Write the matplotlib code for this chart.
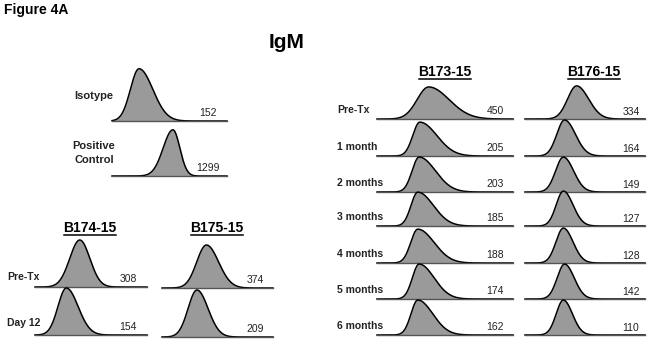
import numpy as np
import matplotlib.pyplot as plt

plt.rcParams['font.family'] = ['Liberation Sans', 'DejaVu Sans']

# --- data -----------------------------------------------------------------
# each histogram: peak position (fraction of the axis), left / right spread,
# peak height (fraction of the panel height) and the printed MFI value
ctrl_labels = ['Isotype', 'Positive\nControl']
ctrl_peak = [0.235, 0.53]
ctrl_sl = [0.075, 0.085]
ctrl_sr = [0.12, 0.06]
ctrl_h = [0.95, 0.84]
ctrl_mfi = [152, 1299]

short_labels = ['Pre-Tx', 'Day 12']
b174_peak = [0.40, 0.28]
b174_sl = [0.09, 0.075]
b174_sr = [0.09, 0.105]
b174_h = [0.94, 0.94]
b174_mfi = [308, 154]

b175_peak = [0.40, 0.315]
b175_sl = [0.087, 0.08]
b175_sr = [0.11, 0.10]
b175_h = [0.86, 0.94]
b175_mfi = [374, 209]

long_labels = ['Pre-Tx', '1 month', '2 months', '3 months', '4 months', '5 months', '6 months']
b173_peak = [0.38, 0.315, 0.31, 0.30, 0.30, 0.31, 0.30]
b173_sl = [0.085, 0.052, 0.052, 0.05, 0.052, 0.05, 0.05]
b173_sr = [0.15, 0.125, 0.12, 0.115, 0.12, 0.11, 0.11]
b173_h = [0.89, 0.94, 0.97, 0.94, 0.94, 0.97, 0.97]
b173_mfi = [450, 205, 203, 185, 188, 174, 162]

b176_peak = [0.43, 0.33, 0.32, 0.32, 0.32, 0.33, 0.32]
b176_sl = [0.075, 0.065, 0.065, 0.06, 0.062, 0.062, 0.06]
b176_sr = [0.10, 0.09, 0.085, 0.08, 0.08, 0.08, 0.075]
b176_h = [0.92, 1.0, 0.97, 0.97, 0.97, 0.97, 0.97]
b176_mfi = [334, 164, 149, 127, 128, 142, 110]

# --- figure -----------------------------------------------------------------
W, H = 654, 342
fig = plt.figure(figsize=(W / 100, H / 100), dpi=100)
FILL = '#9a9a9a'
xs = np.linspace(0, 1, 400)


def px(x, y):
    return x / W, 1 - y / H


def histogram(x0, x1, base, hpx, peak, sl, sr, h, mfi, num_x, num_dy):
    ax = fig.add_axes([x0 / W, (H - base) / H, (x1 - x0) / W, hpx / H])
    ax.set_xlim(0, 1)
    ax.set_ylim(0, 1)
    ax.axis('off')
    s = np.where(xs < peak, sl, sr)
    ys = h * np.exp(-0.5 * ((xs - peak) / s) ** 2)
    ax.fill_between(xs, 0, ys, color=FILL, lw=0)
    ax.plot(xs, ys, color='black', lw=1.1, clip_on=False)
    ax.axhline(0, color='#555555', lw=1.0, clip_on=False)
    ax.text(num_x, num_dy / hpx, str(mfi), ha='center', va='bottom',
            fontsize=7.5, color='#222222')
    return ax


def title(x, y, s):
    fig.text(*px(x, y), s, ha='center', va='center', fontsize=10,
             fontweight='bold')
    xa, ya = px(x - 26, y + 7)
    xb, _ = px(x + 26, y + 7)
    fig.add_artist(plt.Line2D([xa, xb], [ya, ya], color='black', lw=1.1))


fig.text(*px(4, 10), 'Figure 4A', ha='left', va='center', fontsize=10,
         fontweight='bold')
fig.text(*px(287, 43), 'IgM', ha='center', va='center', fontsize=15,
         fontweight='bold')

# controls
ctrl_base = [121, 176]
ctrl_label_y = [96, 153]
for i in range(2):
    histogram(112, 227, ctrl_base[i], 55, ctrl_peak[i], ctrl_sl[i], ctrl_sr[i],
              ctrl_h[i], ctrl_mfi[i], 0.835, 3)
    fig.text(*px(94, ctrl_label_y[i]), ctrl_labels[i], ha='center',
             va='center', fontsize=8, fontweight='bold', color='#222222',
             linespacing=1.5)

# B174-15 / B175-15
title(90, 228, 'B174-15')
title(217, 228, 'B175-15')
b174_base = [287, 335]
b175_base = [288, 337]
short_label_y = [277, 323]
for i in range(2):
    histogram(35, 147, b174_base[i], 50, b174_peak[i], b174_sl[i], b174_sr[i],
              b174_h[i], b174_mfi[i], 0.83, 3)
    histogram(162, 273, b175_base[i], 50, b175_peak[i], b175_sl[i], b175_sr[i],
              b175_h[i], b175_mfi[i], 0.84, 3)
    fig.text(*px(7, short_label_y[i]), short_labels[i], ha='left',
             va='center', fontsize=7.5, fontweight='bold', color='#222222')

# B173-15 / B176-15
title(445, 72, 'B173-15')
title(594, 72, 'B176-15')
long_base = [119, 156, 192, 226, 263, 299, 335]
for i in range(7):
    histogram(377, 513, long_base[i], 36, b173_peak[i], b173_sl[i], b173_sr[i],
              b173_h[i], b173_mfi[i], 0.868, 3)
    histogram(525, 645, long_base[i], 36, b176_peak[i], b176_sl[i], b176_sr[i],
              b176_h[i], b176_mfi[i], 0.883, 2)
    fig.text(*px(337, long_base[i] - 9), long_labels[i], ha='left',
             va='center', fontsize=7.5, fontweight='bold', color='#222222')

fig.savefig('out.png', dpi=100, facecolor='white')
